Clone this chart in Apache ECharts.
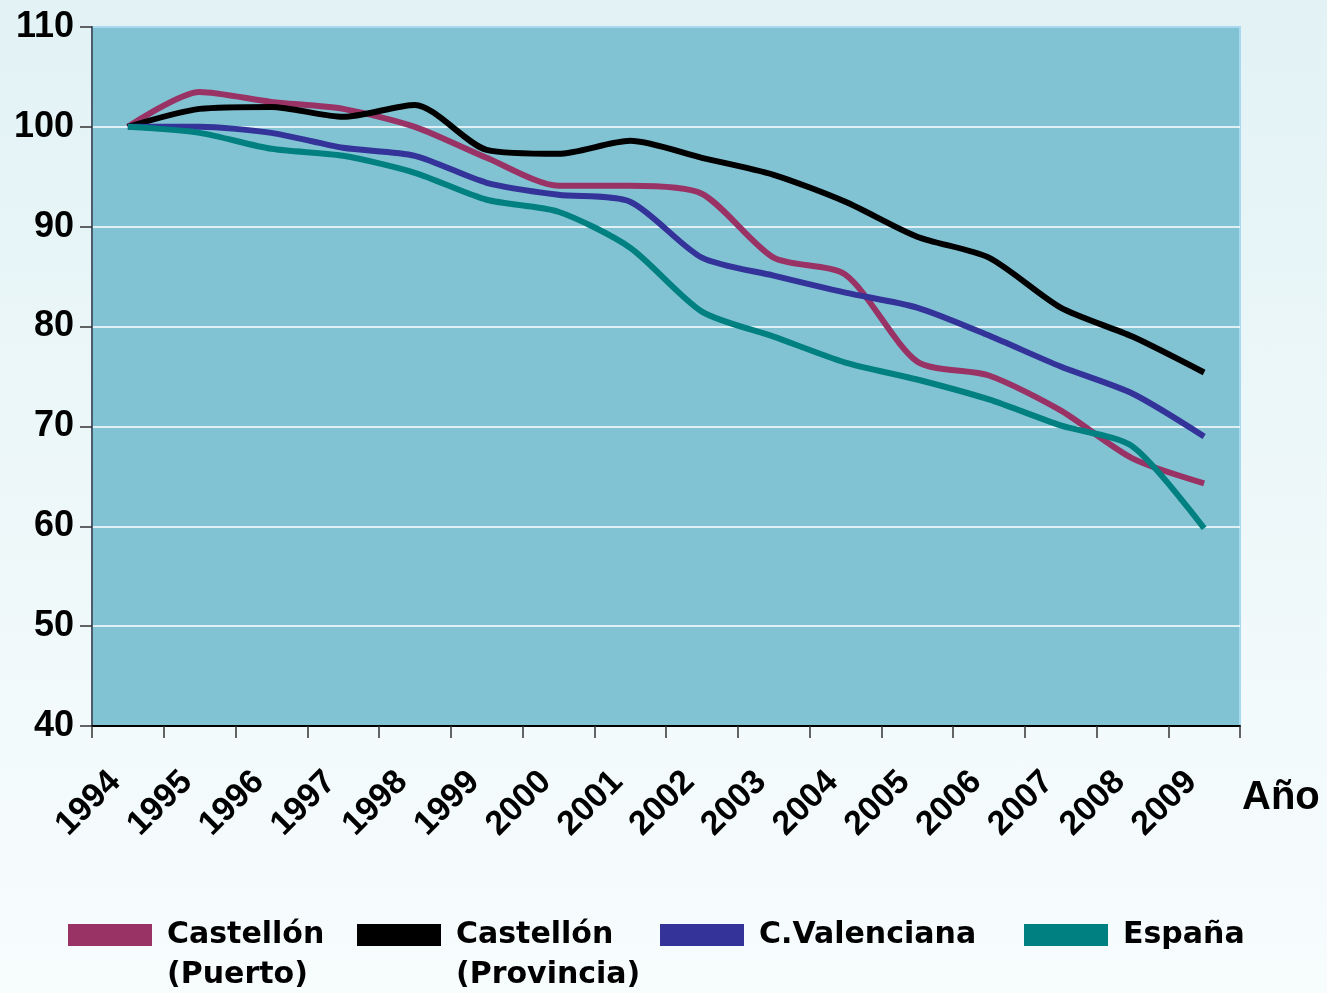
<!DOCTYPE html>
<html>
<head>
<meta charset="utf-8">
<script src="https://cdn.jsdelivr.net/npm/echarts@6/dist/echarts.min.js"></script>
<style>
  html, body { margin: 0; padding: 0; }
  body { background: linear-gradient(to bottom, #e2f2f5 0%, #f0f9fa 60%, #f7fcfd 100%); }
  #chart { width: 1327px; height: 993px; }
</style>
</head>
<body>
<div id="chart"></div>
<script>
// Índice 1994 = 100
const years = ['1994', '1995', '1996', '1997', '1998', '1999', '2000', '2001',
               '2002', '2003', '2004', '2005', '2006', '2007', '2008', '2009'];
const castellonPuerto    = [100, 103.5, 102.5, 101.8, 100.0, 96.9, 94.1, 94.1, 93.3, 86.9, 85.2, 76.5, 75.1, 71.6, 66.8, 64.3];
const castellonProvincia = [100, 101.8, 102.0, 101.0, 102.2, 97.7, 97.3, 98.6, 96.9, 95.2, 92.5, 89.0, 86.9, 81.9, 79.0, 75.4];
const cValenciana        = [100, 100.0, 99.4, 97.9, 97.1, 94.4, 93.2, 92.5, 86.9, 85.1, 83.4, 81.9, 79.1, 76.0, 73.3, 69.0];
const espana             = [100, 99.4, 97.8, 97.1, 95.4, 92.7, 91.5, 87.9, 81.5, 79.0, 76.4, 74.7, 72.7, 70.1, 68.0, 59.8];
const yTicks = [40, 50, 60, 70, 80, 90, 100, 110];

const seriesDefs = [
  { name: 'Castellón\n(Puerto)',    data: castellonPuerto,    color: '#993366', left: 68,   twoLines: true },
  { name: 'Castellón\n(Provincia)', data: castellonProvincia, color: '#000000', left: 357,  twoLines: true },
  { name: 'C.Valenciana',           data: cValenciana,        color: '#333399', left: 660,  twoLines: false },
  { name: 'España',                 data: espana,             color: '#008080', left: 1024, twoLines: false }
];

const legendText = {
  fontFamily: 'DejaVu Sans', fontWeight: 'bold', fontSize: 30, color: '#000', lineHeight: 40,
  padding: [0, 0, 0, 10]
};

const chart = echarts.init(document.getElementById('chart'), null, { renderer: 'canvas' });

chart.setOption({
  backgroundColor: 'transparent',
  animation: false,
  grid: {
    left: 92, right: 87, top: 27, bottom: 267,
    show: true,
    backgroundColor: '#82c3d3',
    borderColor: '#a9d9f2',
    borderWidth: 2
  },
  legend: seriesDefs.map(s => ({
    data: [s.name],
    left: s.left,
    top: s.twoLines ? 875 : 915,
    padding: 0,
    icon: 'rect',
    itemWidth: 84,
    itemHeight: 22,
    itemGap: 0,
    // a blank leading line keeps the first text line level with the swatch
    formatter: s.twoLines ? (n => '\n' + n) : (n => n),
    textStyle: legendText,
    selectedMode: false
  })),
  xAxis: {
    type: 'category',
    data: years,
    boundaryGap: true,
    name: 'Año',
    nameLocation: 'end',
    nameGap: 2,
    nameTextStyle: {
      fontFamily: 'Liberation Sans', fontWeight: 'bold', fontSize: 40, color: '#000',
      align: 'left', verticalAlign: 'top', padding: [52, 0, 0, 0]
    },
    axisLine: { show: true, lineStyle: { color: '#000', width: 2 } },
    axisTick: { show: true, length: 12, lineStyle: { color: '#333', width: 1.5 } },
    axisLabel: {
      interval: 0,
      rotate: 45,
      margin: 38,
      padding: [0, 18, 0, 0],
      fontFamily: 'Liberation Sans', fontWeight: 'bold', fontSize: 34, color: '#000'
    },
    splitLine: { show: false }
  },
  yAxis: {
    type: 'value',
    min: yTicks[0],
    max: yTicks[yTicks.length - 1],
    interval: 10,
    axisLine: { show: true, lineStyle: { color: '#4d5b6e', width: 2 } },
    axisTick: { show: true, length: 12, lineStyle: { color: '#333', width: 1.5 } },
    axisLabel: {
      margin: 18,
      fontFamily: 'Liberation Sans', fontWeight: 'bold', fontSize: 36, color: '#000'
    },
    splitLine: { show: true, showMaxLine: false, lineStyle: { color: '#ffffff', width: 1.5 } }
  },
  series: seriesDefs.map(s => ({
    name: s.name,
    type: 'line',
    data: s.data,
    smooth: 0.25,
    showSymbol: false,
    symbol: 'none',
    color: s.color,
    lineStyle: { color: s.color, width: 6, cap: 'butt', join: 'round' }
  }))
});
</script>
</body>
</html>
